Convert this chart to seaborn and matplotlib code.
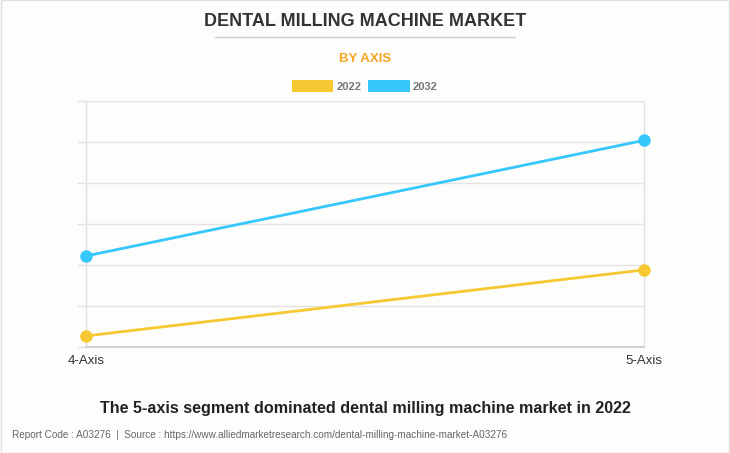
import pandas as pd
import seaborn as sns
import matplotlib.pyplot as plt
from matplotlib.patches import Patch, Rectangle
from matplotlib.lines import Line2D

# data (units unknown, gridline step = 50)
segments = ["4-Axis", "5-Axis"]
years = ["2022", "2032"]
values_2022 = [13.5, 94.0]
values_2032 = [111.0, 252.0]
colors = {"2022": "#f6c832", "2032": "#36c7fd"}

df = pd.DataFrame({
    "segment": segments * 2,
    "year": [years[0]] * 2 + [years[1]] * 2,
    "value": values_2022 + values_2032,
})
df["pos"] = df["segment"].map({s: i for i, s in enumerate(segments)})

sns.set_theme(style="white")
plt.rcParams["font.family"] = ["Liberation Sans", "DejaVu Sans"]

fig = plt.figure(figsize=(7.3, 4.53), dpi=100)
fig.patch.set_facecolor("#fdfdfc")
ax = fig.add_axes([86 / 730, 1 - 347 / 453, (644 - 86) / 730, (347 - 101) / 453])
ax.set_facecolor("#fdfdfc")

sns.lineplot(data=df, x="pos", y="value", hue="year", palette=colors,
             marker="o", markersize=9, markeredgewidth=0, linewidth=2,
             legend=False, ax=ax)

ax.set_xlim(0, 1)
ax.set_ylim(0, 300)
ax.set_xticks([0, 1])
ax.set_xticklabels(segments, fontsize=9.5, color="#333333")
ax.set_yticks(range(0, 301, 50))
ax.set_yticklabels([])
ax.tick_params(axis="y", left=True, length=6.5, color="#e3e3e3", width=1)
ax.tick_params(axis="x", length=0, pad=6)
ax.set_xlabel("")
ax.set_ylabel("")
ax.grid(axis="y", color="#e3e3e3", linewidth=1)
for x in [0, 1]:
    ax.axvline(x, color="#e0e0e0", linewidth=1, zorder=0)
for side in ["top", "right", "left"]:
    ax.spines[side].set_visible(False)
ax.spines["bottom"].set_color("#cccccc")
for ln in ax.lines:
    ln.set_clip_on(False)

# header
fig.text(0.5, 1 - 21 / 453, "DENTAL MILLING MACHINE MARKET", ha="center", va="center",
         fontsize=13, fontweight="bold", color="#333333")
fig.add_artist(Line2D([215 / 730, 515 / 730], [1 - 37 / 453] * 2, color="#cccccc", linewidth=1))
fig.text(0.5, 1 - 59 / 453, "BY AXIS", ha="center", va="center",
         fontsize=9.5, fontweight="bold", color="#f5a623")

handles = [Patch(facecolor=colors[y], edgecolor="none", label=y) for y in years]
fig.legend(handles=handles, loc="center", bbox_to_anchor=(0.5, 1 - 86 / 453), ncol=2,
           frameon=False, prop={"size": 8, "weight": "bold"}, handlelength=3.7,
           handleheight=1.2, handletextpad=0.3, columnspacing=0.6, labelcolor="#777777")

# footer
fig.text(0.5, 1 - 409 / 453, "The 5-axis segment dominated dental milling machine market in 2022",
         ha="center", va="center", fontsize=11.6, fontweight="bold", color="#222222")
fig.text(12 / 730, 1 - 435 / 453,
         "Report Code : A03276  |  Source : https://www.alliedmarketresearch.com/dental-milling-machine-market-A03276",
         ha="left", va="center", fontsize=7.2, color="#666666")

fig.add_artist(Rectangle((0.001, 0.001), 0.998, 0.998, transform=fig.transFigure,
                         fill=False, edgecolor="#e0e0e0", linewidth=1))

fig.savefig("out.png", dpi=100, facecolor=fig.get_facecolor())
